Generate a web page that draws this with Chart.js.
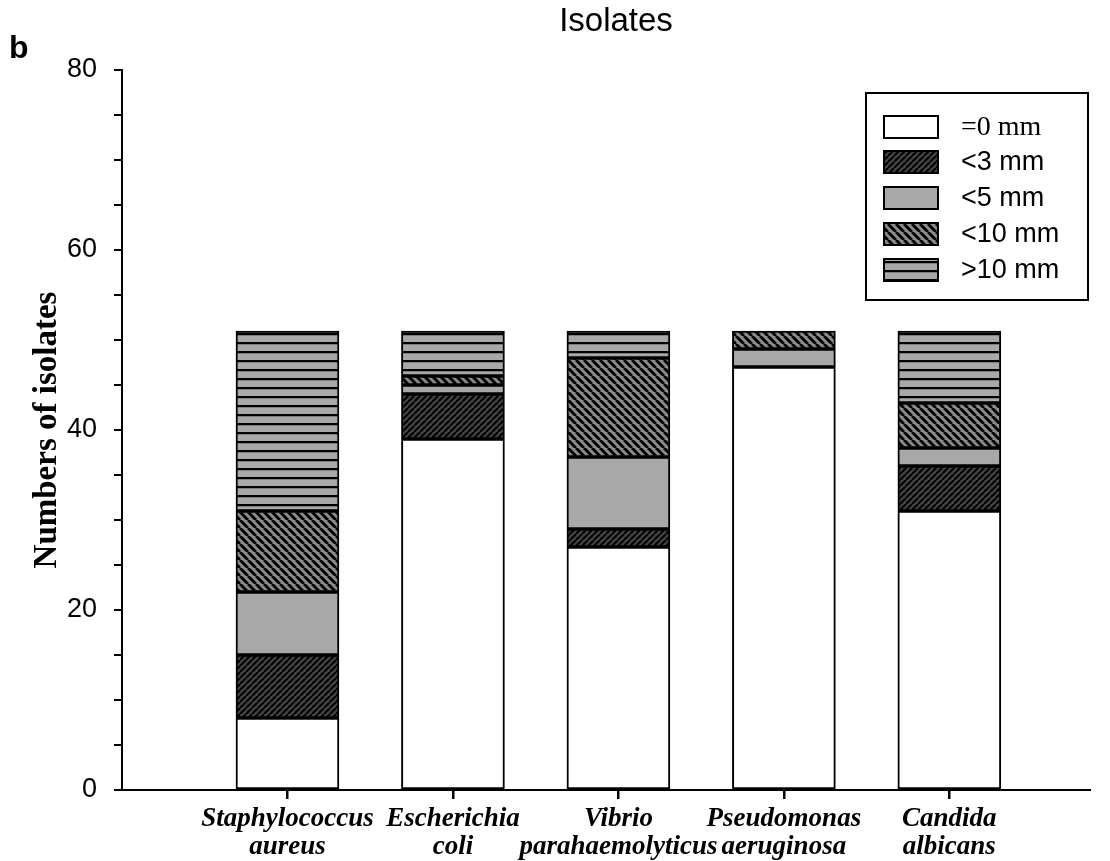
<!DOCTYPE html>
<html>
<head>
<meta charset="utf-8">
<script src="https://cdn.jsdelivr.net/npm/chart.js@4.4.1/dist/chart.umd.min.js"></script>
<style>
  body { margin: 0; background: #fff; }
  #wrap { width: 1110px; height: 861px; }
</style>
</head>
<body>
<div id="wrap"><canvas id="chart" width="1110" height="861"></canvas></div>
<script>
// Data
const categories = [
    ['Staphylococcus', 'aureus'],
    ['Escherichia', 'coli'],
    ['Vibrio', 'parahaemolyticus'],
    ['Pseudomonas', 'aeruginosa'],
    ['Candida', 'albicans']
];
const xPositions = [1, 2, 3, 4, 5];
const zeroMm = [8, 39, 27, 47, 31];
const under3 = [7, 5, 2, 0, 5];
const under5 = [7, 1, 8, 2, 2];
const under10 = [9, 1, 11, 2, 5];
const over10 = [20, 5, 3, 0, 8];
const seriesLabels = ['=0 mm', '<3 mm', '<5 mm', '<10 mm', '>10 mm'];
const yTicks = [0, 20, 40, 60, 80];

// Hatch patterns
function makePattern(bg, drawLines, size) {
    const c = document.createElement('canvas');
    c.width = size; c.height = size;
    const g = c.getContext('2d');
    g.fillStyle = bg;
    g.fillRect(0, 0, size, size);
    g.strokeStyle = '#000';
    drawLines(g, size);
    return g.createPattern(c, 'repeat');
}
const ctx = document.getElementById('chart').getContext('2d');

const fwdHatch = makePattern('#444', (g, s) => {
    g.lineWidth = 2;
    for (let k = -1; k <= 1; k++) {
        g.beginPath(); g.moveTo(k * s, s); g.lineTo(k * s + s, 0); g.stroke();
    }
}, 6);
const backHatch = makePattern('#8c8c8c', (g, s) => {
    g.lineWidth = 3;
    for (let k = -1; k <= 1; k++) {
        g.beginPath(); g.moveTo(k * s, 0); g.lineTo(k * s + s, s); g.stroke();
    }
}, 8);
const hStripes = makePattern('#a8a8a8', (g, s) => {
    g.lineWidth = 2.5;
    g.beginPath(); g.moveTo(0, 1); g.lineTo(s, 1); g.stroke();
}, 9);

const fills = ['#ffffff', fwdHatch, '#a8a8a8', backHatch, hStripes];
const values = [zeroMm, under3, under5, under10, over10];

const datasets = values.map((vals, i) => ({
    label: seriesLabels[i],
    data: vals.map((v, j) => ({ x: xPositions[j], y: v })),
    backgroundColor: fills[i],
    borderColor: '#000',
    borderWidth: 2,
    borderSkipped: false,
    barThickness: 103
}));

// Title, panel letter, category tick marks and legend box drawn on top
const decorations = {
    id: 'decorations',
    afterDraw(chart) {
        const c = chart.ctx;
        c.save();
        c.fillStyle = '#000';
        c.textBaseline = 'alphabetic';
        c.font = '33px "Liberation Sans", Arial, sans-serif';
        c.textAlign = 'center';
        c.fillText('Isolates', 616, 31);
        c.font = 'bold 32px "Liberation Sans", Arial, sans-serif';
        c.textAlign = 'left';
        c.fillText('b', 9, 58);

        // tick marks under each category
        const xs = chart.scales.x;
        const base = chart.chartArea.bottom;
        c.strokeStyle = '#000';
        c.lineWidth = 2;
        xPositions.forEach(v => {
            const px = Math.round(xs.getPixelForValue(v)) + 0.5;
            c.beginPath(); c.moveTo(px, base); c.lineTo(px, base + 9); c.stroke();
        });

        // legend
        c.fillStyle = '#fff';
        c.fillRect(866, 93, 222, 207);
        c.strokeRect(866, 93, 222, 207);
        const rowY = [127, 162, 198, 234, 270];
        c.textBaseline = 'middle';
        chart.data.datasets.forEach((ds, i) => {
            c.fillStyle = ds.backgroundColor;
            c.fillRect(884, rowY[i] - 11, 54, 22);
            c.strokeRect(884, rowY[i] - 11, 54, 22);
            c.fillStyle = '#000';
            c.font = i === 0 ? '28px "Liberation Serif", "Times New Roman", serif'
                             : '27px "Liberation Sans", Arial, sans-serif';
            c.fillText(ds.label, 961, rowY[i] + 1);
        });
        c.restore();
    }
};

new Chart(ctx, {
    type: 'bar',
    data: { datasets },
    options: {
        responsive: false,
        animation: false,
        layout: { padding: { top: 70, right: 20, left: 0, bottom: 0 } },
        plugins: {
            legend: { display: false },
            tooltip: { enabled: false }
        },
        scales: {
            x: {
                type: 'linear',
                stacked: true,
                offset: false,
                min: 0,
                max: 5.85,
                afterBuildTicks: (scale) => { scale.ticks = xPositions.map(v => ({ value: v })); },
                afterFit: (scale) => { scale.height = 71; },
                ticks: {
                    color: '#000',
                    padding: 6,
                    maxRotation: 0,
                    autoSkip: false,
                    font: { family: '"Liberation Serif", "Times New Roman", serif', size: 27, style: 'italic', weight: 'bold', lineHeight: 1.05 },
                    callback: (v) => categories[xPositions.indexOf(v)] || ''
                },
                grid: { offset: false, drawOnChartArea: false, drawTicks: true, tickLength: 9, color: '#000', lineWidth: 2 },
                border: { display: true, color: '#000', width: 2 }
            },
            y: {
                stacked: true,
                min: 0,
                max: 80,
                afterFit: (scale) => { scale.width = 122; },
                afterBuildTicks: (scale) => {
                    const t = [];
                    for (let v = 0; v <= 80; v += 5) t.push({ value: v });
                    scale.ticks = t;
                },
                ticks: {
                    color: '#000',
                    padding: 17,
                    font: { family: '"Liberation Sans", Arial, sans-serif', size: 27 },
                    callback: (v) => yTicks.includes(v) ? String(v) : ''
                },
                grid: { drawOnChartArea: false, drawTicks: true, tickLength: 8, color: '#000', lineWidth: 2 },
                border: { display: true, color: '#000', width: 2 },
                title: {
                    display: true,
                    text: 'Numbers of isolates',
                    color: '#000',
                    font: { family: '"Liberation Serif", "Times New Roman", serif', size: 33, weight: 'bold' },
                    padding: { top: 28, bottom: 0 }
                }
            }
        }
    },
    plugins: [decorations]
});
</script>
</body>
</html>
